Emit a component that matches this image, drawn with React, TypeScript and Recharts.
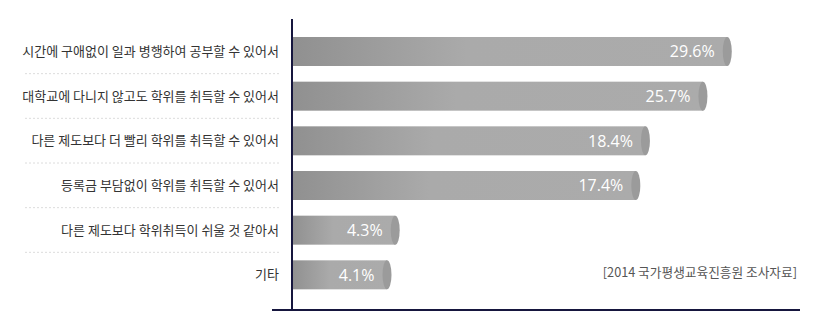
import React from 'react';
import { BarChart, Bar, XAxis, YAxis, LabelList } from 'recharts';

// reasons for choosing the credit bank system
const reasons = [
	'시간에 구애없이 일과 병행하여 공부할 수 있어서',
	'대학교에 다니지 않고도 학위를 취득할 수 있어서',
	'다른 제도보다 더 빨리 학위를 취득할 수 있어서',
	'등록금 부담없이 학위를 취득할 수 있어서',
	'다른 제도보다 학위취득이 쉬울 것 같아서',
	'기타',
];
const shares = [29.6, 25.7, 18.4, 17.4, 4.3, 4.1];
const sourceNote = '[2014 국가평생교육진흥원 조사자료]';

const chartData = reasons.map((reason, i) => ({ reason, share: shares[i] }));

const AXIS_COLOR = '#16163e';
const KR_FONT = "'Noto Sans CJK KR', 'Noto Sans', sans-serif";
const ROW = 268 / reasons.length;

const ReasonTick = (props: any) => {
	const { x, y, payload, index } = props;
	return (
		<g>
			<text x={x} y={y} dy="0.35em" textAnchor="end" fill="#333" fontSize={13} fontFamily={KR_FONT}>
				{payload.value}
			</text>
			{index < reasons.length - 1 && (
				<line x1={25} x2={x + 1} y1={y + ROW / 2} y2={y + ROW / 2} stroke="#dcdcdc" strokeDasharray="2 2" />
			)}
		</g>
	);
};

const CylinderBar = (props: any) => {
	const { x, y, width, height } = props;
	const cap = 4.5;
	return (
		<g>
			<rect x={x} y={y} width={Math.max(width - cap, 0)} height={height} fill="url(#barShade)" />
			<ellipse cx={x + width - cap} cy={y + height / 2} rx={cap} ry={height / 2} fill="#9b9b9b" />
		</g>
	);
};

const ValueLabel = (props: any) => {
	const { x, y, width, height, value } = props;
	return (
		<text
			x={x + width - 17}
			y={y + height / 2}
			dy="0.36em"
			textAnchor="end"
			fill="#fff"
			fontSize={16}
			fontFamily="'Open Sans', sans-serif"
		>
			{value}%
		</text>
	);
};

export default function App() {
	return (
		<div style={{ position: 'absolute', left: 0, top: 0, width: 820, height: 330, background: '#fff' }}>
			<BarChart
				width={820}
				height={330}
				layout="vertical"
				data={chartData}
				margin={{ top: 19, right: 20, bottom: 20, left: 0 }}
			>
				<defs>
					<linearGradient id="barShade" x1="0" y1="0" x2="1" y2="0">
						<stop offset="0%" stopColor="#909090" />
						<stop offset="40%" stopColor="#aaaaaa" />
						<stop offset="100%" stopColor="#ababab" />
					</linearGradient>
				</defs>
				<XAxis type="number" scale="log" domain={[2.3, 44]} allowDataOverflow hide />
				<YAxis
					type="category"
					dataKey="reason"
					width={292}
					interval={0}
					axisLine={{ stroke: AXIS_COLOR, strokeWidth: 2 }}
					tickLine={false}
					tickSize={0}
					tickMargin={13}
					padding={{ top: 10, bottom: 13 }}
					tick={<ReasonTick />}
				/>
				<Bar dataKey="share" barSize={29} shape={<CylinderBar />} isAnimationActive={false}>
					<LabelList dataKey="share" content={<ValueLabel />} />
				</Bar>
			</BarChart>
			<div style={{ position: 'absolute', left: 272, top: 309, width: 528, height: 2, background: AXIS_COLOR }} />
			<div
				style={{
					position: 'absolute',
					right: 23,
					top: 263,
					lineHeight: '18px',
					fontSize: 12.7,
					color: '#555',
					fontFamily: KR_FONT,
				}}
			>
				{sourceNote}
			</div>
		</div>
	);
}
